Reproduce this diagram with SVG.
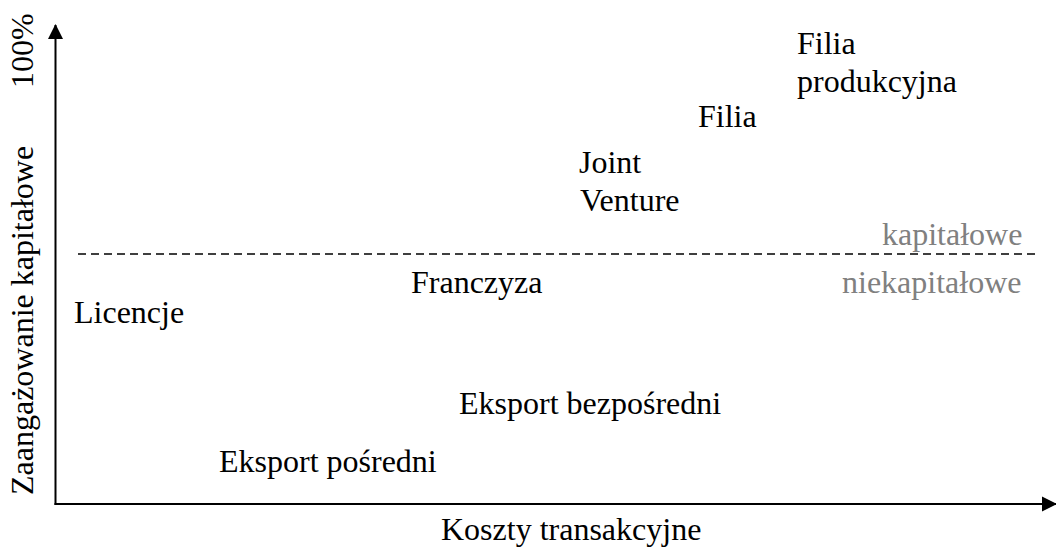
<svg xmlns="http://www.w3.org/2000/svg" width="1056" height="547" viewBox="0 0 1056 547">
<style>
text{font-size:32px;fill:#000}
.g{fill:#808080}
.ax{stroke:#000;stroke-width:2;fill:none}
</style>
<defs>
<marker id="ah" markerWidth="16" markerHeight="16" refX="14" refY="8" orient="auto" markerUnits="userSpaceOnUse">
<path d="M0,0.5 L15,8 L0,15.5 Z" fill="#000"/>
</marker>
</defs>
<rect width="1056" height="547" fill="#fff"/>
<g id="connectors">
<line class="ax" x1="55.5" y1="505" x2="55.5" y2="25" marker-end="url(#ah)"/>
<line class="ax" x1="54.5" y1="504" x2="1056" y2="504" marker-end="url(#ah)"/>
<line x1="78" y1="254" x2="1040" y2="254" stroke="#000" stroke-width="1.5" stroke-dasharray="8,5"/>
</g>
<g font-family="'Liberation Serif', 'Times New Roman', Times, serif">
<g id="axis-labels">
<text transform="translate(33,88) rotate(-90)">100%</text>
<text transform="translate(33,495) rotate(-90)">Zaangażowanie kapitałowe</text>
<text x="441" y="540">Koszty transakcyjne</text>
</g>
<g id="zone-labels">
<text class="g" x="882" y="245">kapitałowe</text>
<text class="g" x="842" y="293">niekapitałowe</text>
</g>
<g id="filia-produkcyjna"><text x="797" y="54">Filia</text><text x="797" y="92">produkcyjna</text></g>
<g id="filia"><text x="698" y="127">Filia</text></g>
<g id="joint-venture"><text x="579" y="173">Joint</text><text x="580" y="211">Venture</text></g>
<g id="franczyza"><text x="411" y="293">Franczyza</text></g>
<g id="licencje"><text x="74" y="323">Licencje</text></g>
<g id="eksport-bezposredni"><text x="459" y="414">Eksport bezpośredni</text></g>
<g id="eksport-posredni"><text x="219" y="472">Eksport pośredni</text></g>
</g>
</svg>
